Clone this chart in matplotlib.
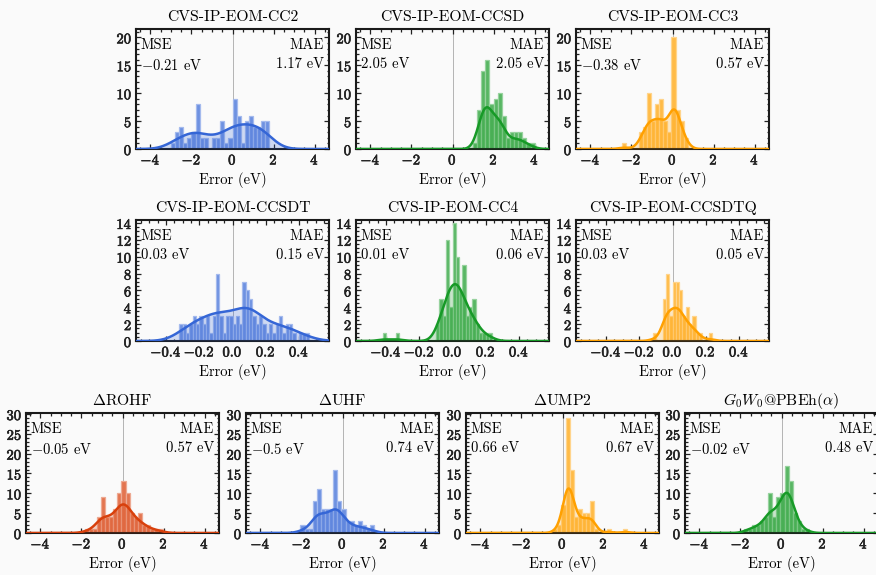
import numpy as np
import matplotlib
matplotlib.use('Agg')
import matplotlib.pyplot as plt
import matplotlib.patheffects as pe
from matplotlib.colors import to_rgb
from matplotlib.ticker import FuncFormatter, MultipleLocator

plt.rcParams['font.family'] = ['cmr10', 'DejaVu Serif']
plt.rcParams['mathtext.fontset'] = 'cm'
plt.rcParams['font.size'] = 10

# method names, one per panel (rows of 3, 3, 4)
titles = ['CVS-IP-EOM-CC2', 'CVS-IP-EOM-CCSD', 'CVS-IP-EOM-CC3',
          'CVS-IP-EOM-CCSDT', 'CVS-IP-EOM-CC4', 'CVS-IP-EOM-CCSDTQ',
          r'$\Delta$ROHF', r'$\Delta$UHF', r'$\Delta$UMP2',
          r'$G_0W_0$@PBEh($\alpha$)']
mse = [-0.21, 2.05, -0.38, 0.03, 0.01, 0.03, -0.05, -0.5, 0.66, -0.02]
mae = [1.17, 2.05, 0.57, 0.15, 0.06, 0.05, 0.57, 0.74, 0.67, 0.48]

# histogram bins: left edge of first bin and bin width (eV)
bin_start = [-3.0, 1.0, -2.45, -0.32, -0.42, -0.12, -1.85, -2.05, -0.45, -1.85]
bin_width = [0.2, 0.2, 0.2, 0.02, 0.02, 0.02, 0.2, 0.2, 0.2, 0.2]

cc2 = [1, 3, 4, 1, 2, 3, 8, 2, 2, 0, 2, 2, 5, 1, 2,
       9, 6, 1, 5, 6, 4, 4, 5, 5]
ccsd = [1, 7, 14, 16, 8, 9, 10, 6, 2, 3, 3, 3, 2, 1, 1]
cc3 = [1, 0, 0, 0, 3, 4, 10, 5, 8, 9, 5, 3, 20, 7, 5, 2]
ccsdt = [2, 2, 1, 2, 3, 2, 3, 2, 3, 1, 3, 8, 3, 1, 3, 3, 2, 3, 2, 7,
         6, 5, 3, 2, 3, 2, 1, 2, 1, 2, 3, 1, 2, 2, 1, 0, 1, 1, 1]
cc4 = [1, 0, 0, 0, 1, 0, 0, 0, 0, 0, 0, 0, 0, 0, 0, 0,
       2, 5, 3, 12, 4, 14, 10, 6, 9, 3, 4, 5, 2, 1, 1, 1, 1]
ccsdtq = [1, 0, 0, 5, 8, 3, 7, 7, 6, 3, 4, 2, 3, 1, 1, 0, 0, 1]
rohf = [1, 1, 1, 4, 9, 4, 4, 6, 10, 13, 10, 5, 4, 5, 2, 2, 1, 1, 1]
uhf = [2, 1, 1, 8, 11, 6, 6, 6, 16, 8, 6, 3, 3, 2, 3, 2, 1, 2]
ump2 = [1, 2, 7, 29, 16, 4, 6, 5, 5, 8, 1, 0, 0, 1, 0, 0, 0, 1]
gw = [1, 1, 2, 2, 3, 4, 10, 4, 9, 10, 17, 13, 5, 3, 1, 1]
counts = [cc2, ccsd, cc3, ccsdt, cc4, ccsdtq, rohf, uhf, ump2, gw]

# weight of the density curve relative to count * bin width
kde_scale = [1.0, 0.64, 0.74, 1.1, 0.78, 0.67, 0.78, 0.67, 0.69, 0.83]

blue, green, orange, red = '#3566d6', '#179a27', '#ffa000', '#d8400c'
colors = [blue, green, orange, blue, green, orange, red, blue, orange, green]


def kde(start, width, n_per_bin, grid):
    # gaussian kde (scott bandwidth) of the binned values, scaled to counts
    c = np.asarray(n_per_bin, float)
    x = start + width * (np.arange(len(c)) + 0.5)
    n = c.sum()
    mean = (x * c).sum() / n
    std = np.sqrt(((x - mean) ** 2 * c).sum() / (n - 1))
    bw = std * n ** (-0.2)
    d = (c[:, None] * np.exp(-0.5 * ((grid[None, :] - x[:, None]) / bw) ** 2)).sum(0)
    d /= n * bw * np.sqrt(2 * np.pi)
    return d * n * width


def lighten(c, f):
    r = np.array(to_rgb(c))
    return tuple(r + (1 - r) * f)


W, H = 876., 575.
bg = '#fafafa'
fig = plt.figure(figsize=(W / 100, H / 100), dpi=100, facecolor=bg)

# axes boxes in pixels: left, top, bottom
boxes = [(136, 29, 149), (356, 29, 149), (576, 29, 149),
         (136, 220, 341), (356, 220, 341), (576, 220, 341),
         (26, 413, 533), (246, 413, 533), (466, 413, 533), (685, 413, 533)]
aw = 193
bold = [pe.withStroke(linewidth=0.45, foreground='#222222')]

for i in range(10):
    left, top, bot = boxes[i]
    ax = fig.add_axes([left / W, 1 - bot / H, aw / W, (bot - top) / H])
    ax.set_facecolor(bg)
    col = colors[i]
    narrow = 3 <= i <= 5

    if narrow:
        xl, ymax = 0.58, 14.35
        xmaj, xmin_, ymaj, ymin_ = 0.2, 0.05, 2, 0.5
        fmt = lambda v, p: r'$\mathbf{%.1f}$' % v
    else:
        xl = 4.7
        xmaj, xmin_ = 2, 0.5
        if i < 3:
            ymax, ymaj, ymin_ = 21.5, 5, 1
        else:
            ymax, ymaj, ymin_ = 30.25, 5, 1
        fmt = lambda v, p: r'$\mathbf{%d}$' % round(v)

    c = np.asarray(counts[i])
    edges = bin_start[i] + bin_width[i] * np.arange(len(c))
    ax.bar(edges, c, width=bin_width[i], align='edge',
           color=lighten(col, 0.28), edgecolor=lighten(col, 0.55),
           linewidth=0.9, zorder=2)

    grid = np.linspace(-xl, xl, 600)
    y = kde(bin_start[i], bin_width[i], c, grid) * kde_scale[i]
    ax.fill_between(grid, 0, y, color=col, alpha=0.22, lw=0, zorder=3)
    ax.plot(grid, y, color=col, lw=1.8, zorder=4)

    ax.axvline(0, color='#a8a8a8', lw=0.6, zorder=1)

    ax.set_xlim(-xl, xl)
    ax.set_ylim(0, ymax)
    ax.xaxis.set_major_locator(MultipleLocator(xmaj))
    ax.xaxis.set_minor_locator(MultipleLocator(xmin_))
    ax.yaxis.set_major_locator(MultipleLocator(ymaj))
    ax.yaxis.set_minor_locator(MultipleLocator(ymin_))
    ax.xaxis.set_major_formatter(FuncFormatter(fmt))
    ax.yaxis.set_major_formatter(FuncFormatter(lambda v, p: r'$\mathbf{%d}$' % round(v)))
    ax.tick_params(which='both', direction='in', top=True, right=True,
                   width=0.9, labelsize=10.5, pad=2.5, colors='#222222')
    ax.tick_params(which='major', length=3.5)
    ax.tick_params(which='minor', length=1.8)
    for lab in ax.get_xticklabels() + ax.get_yticklabels():
        lab.set_path_effects(bold)
    for s in ax.spines.values():
        s.set_linewidth(1.5)
        s.set_color('#1a1a1a')

    ax.set_title(titles[i], fontsize=11.3, pad=6)
    ax.set_xlabel('Error (eV)', fontsize=10.5, labelpad=3)

    m = '{:g}'.format(abs(mse[i]))
    m = ('$-$' + m) if mse[i] < 0 else m
    ax.text(0.025, 0.925, 'MSE\n' + m + ' eV', transform=ax.transAxes,
            ha='left', va='top', fontsize=10.5, linespacing=1.5, zorder=5)
    ax.text(0.975, 0.925, 'MAE\n{:g} eV'.format(mae[i]), transform=ax.transAxes,
            ha='right', va='top', fontsize=10.5, linespacing=1.5,
            multialignment='right', zorder=5)

fig.savefig('out.png', dpi=100, facecolor=bg)
